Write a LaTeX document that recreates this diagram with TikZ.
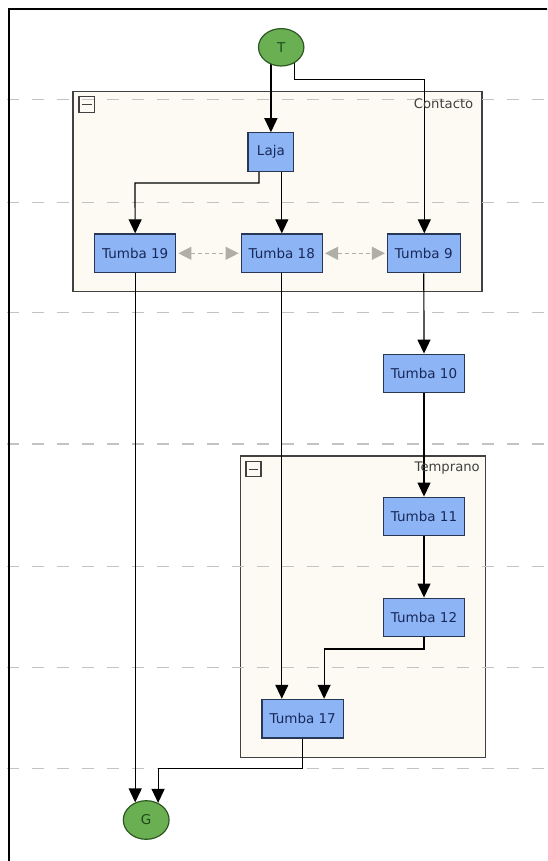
\documentclass[tikz,border=0pt]{standalone}
\usepackage{fontspec}
\setmainfont{DejaVu Sans}
\usetikzlibrary{arrows.meta,shapes.geometric}
\definecolor{cajaazul}{RGB}{141,181,245}
\definecolor{bordeazul}{RGB}{40,55,85}
\definecolor{textoazul}{RGB}{25,40,90}
\definecolor{verde}{RGB}{106,176,82}
\definecolor{bordeverde}{RGB}{45,88,35}
\definecolor{textoverde}{RGB}{30,75,30}
\definecolor{fondogrupo}{RGB}{252,250,242}
\definecolor{bordegrupo}{RGB}{65,65,65}
\definecolor{griscarril}{RGB}{195,195,195}
\definecolor{grisflecha}{RGB}{175,175,165}
\pgfdeclarelayer{fondo}
\pgfdeclarelayer{lineas}
\pgfsetlayers{fondo,lineas,main}
\begin{document}
\begin{tikzpicture}[x=1pt,y=-1pt,
    tumba/.style={draw=bordeazul,fill=cajaazul,line width=1.2pt,minimum height=38.7pt,
      inner xsep=7.5pt,text=textoazul,font=\fontsize{13.5}{16}\selectfont},
    hito/.style={ellipse,draw=bordeverde,fill=verde,line width=1.2pt,inner sep=0pt,
      text=textoverde,font=\fontsize{13.5}{16}\selectfont},
    flujo/.style={-{Triangle[length=14pt,width=13pt]},line width=1.2pt},
    enlace/.style={{Triangle[length=13pt,width=13pt]}-{Triangle[length=13pt,width=13pt]},
      draw=grisflecha,line width=1.2pt,dash pattern=on 4pt off 3pt,shorten <=2pt,shorten >=2pt},
    grupo/.style={draw=bordegrupo,fill=fondogrupo,line width=1.3pt},
    rotulo/.style={anchor=east,inner sep=0pt,text=bordegrupo,font=\fontsize{13.2}{16}\selectfont},
    icono/.style={draw=bordegrupo,line width=1.2pt},
    carril/.style={draw=griscarril,line width=1.2pt,dash pattern=on 12pt off 13pt}]
  \clip (0,0) rectangle (547,861);

  % nodos
  \node[hito,minimum width=45.4pt,minimum height=37.4pt] (T) at (281.2,47.3) {T};
  \node[tumba,minimum width=45.7pt] (laja) at (270.9,152.2) {Laja};
  \node[tumba] (t19) at (135.2,253.3) {Tumba 19};
  \node[tumba] (t18) at (281.8,253.3) {Tumba 18};
  \node[tumba] (t9) at (423.8,253.3) {Tumba 9};
  \node[tumba] (t10) at (424,373.5) {Tumba 10};
  \node[tumba] (t11) at (424,516.5) {Tumba 11};
  \node[tumba] (t12) at (424,617.5) {Tumba 12};
  \node[tumba] (t17) at (302.7,718.7) {Tumba 17};
  \node[hito,minimum width=45.8pt,minimum height=38.6pt] (G) at (146.2,820) {G};

  \node[rotulo] (contacto) at (473.5,104) {Contacto};
  \node[rotulo] (temprano) at (480,468) {Temprano};

  % grupos y carriles
  \begin{pgfonlayer}{fondo}
    \draw[grupo] (72.9,91.3) rectangle (481.9,291.7);
    \draw[grupo] (240.8,456) rectangle (485.7,757.3);
    \foreach \y in {99.3,202.3,312.7,444,566.7,667.7,768.7}
      \draw[carril] (6.7,\y) -- (547,\y);
    \draw[icono] (78.9,96.7) rectangle (94.2,112.7);
    \draw[icono] (81.5,104.7) -- (91.6,104.7);
    \draw[icono] (246,461.7) rectangle (261,476.7);
    \draw[icono] (248.6,469.2) -- (258.4,469.2);
  \end{pgfonlayer}

  % conexiones
  \coordinate (b0) at (424.3,79.3);
  \coordinate (b1) at (135,183);
  \coordinate (b2) at (324.1,649);
  \coordinate (b3) at (158.1,768.7);
  \begin{pgfonlayer}{lineas}
    \draw[flujo] (laja.north |- T.center) -- (laja.north);
    \draw[flujo] ([xshift=13pt]T.center) |- (b0) -- (b0 |- t9.north);
    \draw[flujo] ([xshift=-12pt]laja.south) |- (b1) -- (t19.north);
    \draw[flujo] (t18.north |- laja.south) -- (t18.north);
    \draw[enlace] (t19.east) -- (t18.west);
    \draw[enlace] (t18.east) -- (t9.west);
    \draw[flujo] (t9.south) -- (t10.north);
    \draw[flujo] (t10.south) -- (t11.north);
    \draw[flujo] (t11.south) -- (t12.north);
    \draw[flujo] (t12.south) |- (b2) -- (b2 |- t17.north);
    \draw[flujo] (t18.south) -- (t18.south |- t17.north);
    \draw[flujo] (t19.south) -- (t19.south |- G.122);
    \draw[flujo] (t17.south) |- (b3) -- (b3 |- G.55);
  \end{pgfonlayer}

  % marco
  \draw[line width=2.2pt] (9.1,880) -- (9.1,9.3) -- (560,9.3);
\end{tikzpicture}
\end{document}
